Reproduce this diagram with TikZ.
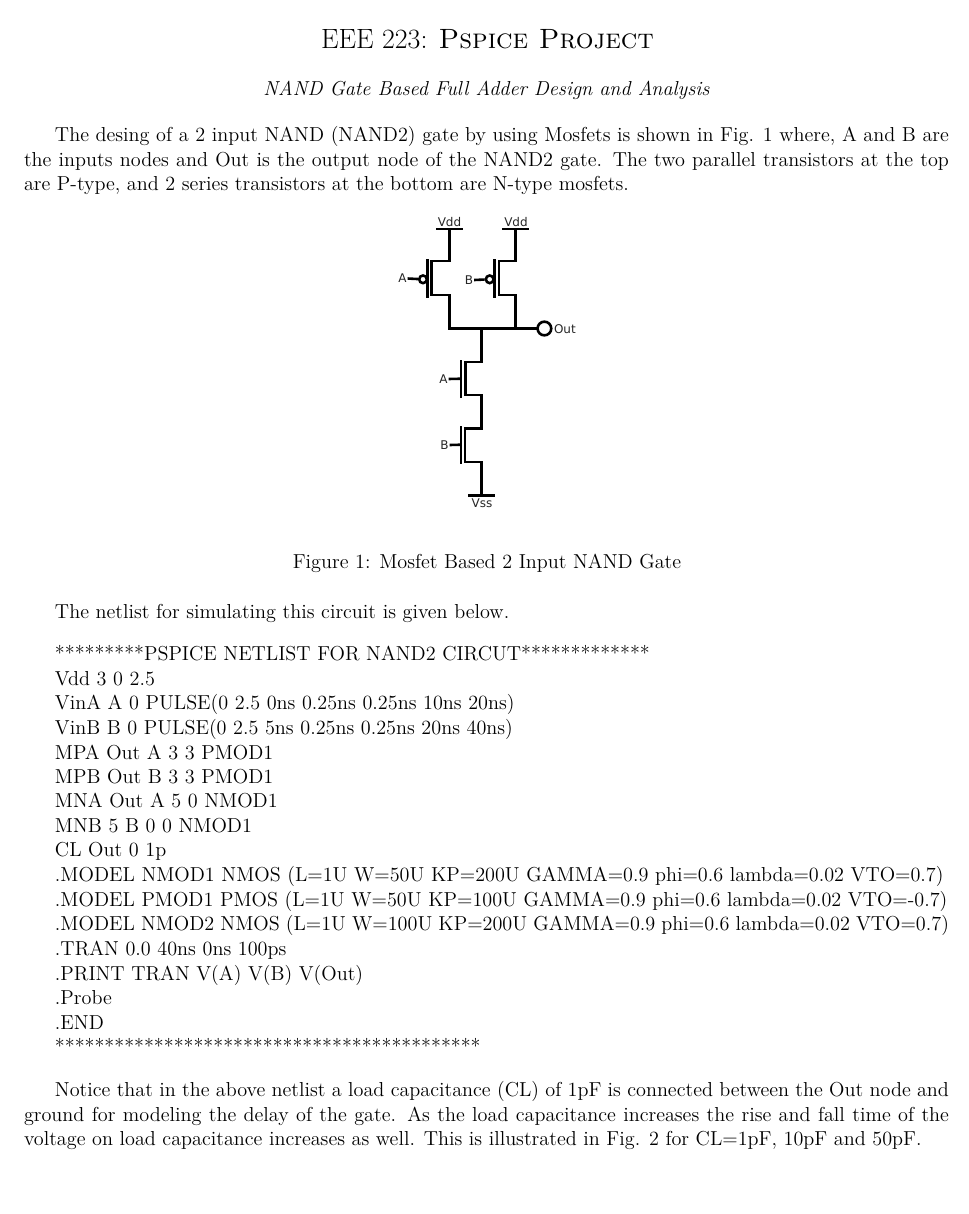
\documentclass[tikz,border=0pt]{standalone}
\usepackage{fontspec}
\newfontfamily\cirfont{DejaVu Sans}
\tikzset{
  ln/.style={anchor=base west,inner sep=0pt,outer sep=0pt,font=\fontsize{12.12}{14.5}\selectfont},
  ctr/.style={anchor=base,inner sep=0pt,outer sep=0pt},
  wire/.style={line width=1.55pt,line cap=rect,line join=miter},
  cir/.style={inner sep=0pt,outer sep=0pt,font=\cirfont\fontsize{7.2}{8}\selectfont,text=black!85},
  bubble/.style={circle,draw,line width=1.55pt,inner sep=0pt,fill=white},
}
\newcommand{\js}[1]{\makebox[555pt][s]{#1}}
\newcommand{\ji}[1]{\makebox[536.4pt][s]{#1}}
\begin{document}
\begin{tikzpicture}[x=0.6pt,y=-0.6pt]
\useasboundingbox (0,0) rectangle (968,1214);
% text
\node[ctr,font=\fontsize{16.75}{21}\selectfont] (title) at (487.5,48.5) {EEE 223: \textsc{Pspice Project}};
\node[ctr,font=\fontsize{12.12}{14.5}\itshape\selectfont] (sub) at (486.5,95.5) {NAND Gate Based Full Adder Design and Analysis};
\node[ln] (p1a) at (55,141) {\ji{The desing of a 2 input NAND (NAND2) gate by using Mosfets is shown in Fig. 1 where, A and B are}};
\node[ln] (p1b) at (24,166) {\js{the inputs nodes and Out is the output node of the NAND2 gate.  The two parallel transistors at the top}};
\node[ln] (p1c) at (24,190) {are P-type, and 2 series transistors at the bottom are N-type mosfets.};
\node[ctr,font=\fontsize{12.12}{14.5}\selectfont] (cap) at (487,568) {Figure 1: Mosfet Based 2 Input NAND Gate};
\node[ln] (p2) at (55,618) {The netlist for simulating this circuit is given below.};
\node[ln] (n01) at (55,660) {*********PSPICE NETLIST FOR NAND2 CIRCUT*************};
\node[ln] (n02) at (55,685.2) {Vdd 3 0 2.5};
\node[ln] (n03) at (55,709.5) {VinA A 0 PULSE(0 2.5 0ns 0.25ns 0.25ns 10ns 20ns)};
\node[ln] (n04) at (55,734.1) {VinB B 0 PULSE(0 2.5 5ns 0.25ns 0.25ns 20ns 40ns)};
\node[ln] (n05) at (55,759) {MPA Out A 3 3 PMOD1};
\node[ln] (n06) at (55,783.3) {MPB Out B 3 3 PMOD1};
\node[ln] (n07) at (55,807.9) {MNA Out A 5 0 NMOD1};
\node[ln] (n08) at (55,832.5) {MNB 5 B 0 0 NMOD1};
\node[ln] (n09) at (55,856.8) {CL Out 0 1p};
\node[ln] (n10) at (55,881.7) {.MODEL NMOD1 NMOS (L=1U W=50U KP=200U GAMMA=0.9 phi=0.6 lambda=0.02 VTO=0.7)};
\node[ln] (n11) at (55,906.3) {.MODEL PMOD1 PMOS (L=1U W=50U KP=100U GAMMA=0.9 phi=0.6 lambda=0.02 VTO=-0.7)};
\node[ln] (n12) at (55,930.9) {\ji{.MODEL NMOD2 NMOS (L=1U W=100U KP=200U GAMMA=0.9 phi=0.6 lambda=0.02 VTO=0.7)}};
\node[ln] (n13) at (55,955.5) {.TRAN 0.0 40ns 0ns 100ps};
\node[ln] (n14) at (55,980.1) {.PRINT TRAN V(A) V(B) V(Out)};
\node[ln] (n15) at (55,1004.4) {.Probe};
\node[ln] (n16) at (55,1029.3) {.END};
\node[ln] (n17) at (55,1053.9) {*******************************************};
\node[ln] (p3a) at (55,1096) {\ji{Notice that in the above netlist a load capacitance (CL) of 1pF is connected between the Out node and}};
\node[ln] (p3b) at (24,1121) {\js{ground for modeling the delay of the gate.  As the load capacitance increases the rise and fall time of the}};
\node[ln] (p3c) at (24,1145) {voltage on load capacitance increases as well. This is illustrated in Fig. 2 for CL=1pF, 10pF and 50pF.};
% circuit: pull-up A
\coordinate (v1) at (449.3,229); \coordinate (v1l) at (437,229); \coordinate (v1r) at (461.7,229);
\coordinate (pa1) at (449.3,261); \coordinate (pa2) at (431.7,261); \coordinate (pa3) at (431.7,295); \coordinate (pa4) at (449.3,295);
\coordinate (ja) at (449.3,328.5);
\coordinate (ga1) at (427.7,260); \coordinate (ga2) at (427.7,296.5);
% pull-up B
\coordinate (v2) at (515.5,229); \coordinate (v2l) at (503.3,229); \coordinate (v2r) at (527.7,229);
\coordinate (pb1) at (515.5,261); \coordinate (pb2) at (499,261); \coordinate (pb3) at (499,295); \coordinate (pb4) at (515.5,295);
\coordinate (jb) at (515.5,328.5);
\coordinate (gb1) at (494.3,260); \coordinate (gb2) at (494.3,296.5);
\coordinate (jc) at (481.7,328.5);
% pull-down
\coordinate (na1) at (481.7,362); \coordinate (na2) at (465.3,362); \coordinate (na3) at (465.3,395); \coordinate (na4) at (481.7,395);
\coordinate (nb1) at (481.7,428.3); \coordinate (nb2) at (465,428.3); \coordinate (nb3) at (465,462); \coordinate (nb4) at (481.7,462);
\coordinate (vs) at (481.7,495.3); \coordinate (vsl) at (469.3,495.3); \coordinate (vsr) at (494,495.3);
\coordinate (gc1) at (461,361.3); \coordinate (gc2) at (461,396.3);
\coordinate (gd1) at (461,427.3); \coordinate (gd2) at (461,463);
\coordinate (gcm) at (461,378.7); \coordinate (gdm) at (461,444.7);
% labels
\node[cir] (lv1) at (449.5,222.5) {Vdd};
\node[cir] (lv2) at (516,222.5) {Vdd};
\node[cir] (la1) at (402.5,278.5) {A};
\node[cir] (lb1) at (469,280) {B};
\node[cir,anchor=west] (lout) at (554,329) {Out};
\node[cir] (la2) at (443.5,379) {A};
\node[cir] (lb2) at (444.5,445) {B};
\node[cir] (lvs) at (482,503.5) {Vss};
% bubbles
\node[bubble,minimum size=4.6pt] (ba) at (423,279.3) {};
\node[bubble,minimum size=4.6pt] (bb) at (489.7,279.3) {};
\node[bubble,minimum size=8.2pt] (out) at (544.4,328.5) {};
% wires
\draw[wire] (v1l) -- (v1r);
\draw[wire] (v2l) -- (v2r);
\draw[wire] (vsl) -- (vsr);
\draw[wire] (v1) -- (pa1) -- (pa2) -- (pa3) -- (pa4) -- (ja) -- (out);
\draw[wire] (v2) -- (pb1) -- (pb2) -- (pb3) -- (pb4) -- (jb);
\draw[wire] (ga1) -- (ga2);
\draw[wire] (gb1) -- (gb2);
\draw[wire] (gc1) -- (gc2);
\draw[wire] (gd1) -- (gd2);
\draw[wire] (jc) -- (na1) -- (na2) -- (na3) -- (na4) -- (nb1) -- (nb2) -- (nb3) -- (nb4) -- (vs);
\draw[wire,line cap=butt] (la1.east) ++(1,0) -- (ba);
\draw[wire,line cap=butt] (lb1.east) ++(1,0) -- (bb);
\draw[wire,line cap=butt] (la2.east) ++(1,0) -- (gcm);
\draw[wire,line cap=butt] (lb2.east) ++(1,0) -- (gdm);
\end{tikzpicture}
\end{document}
